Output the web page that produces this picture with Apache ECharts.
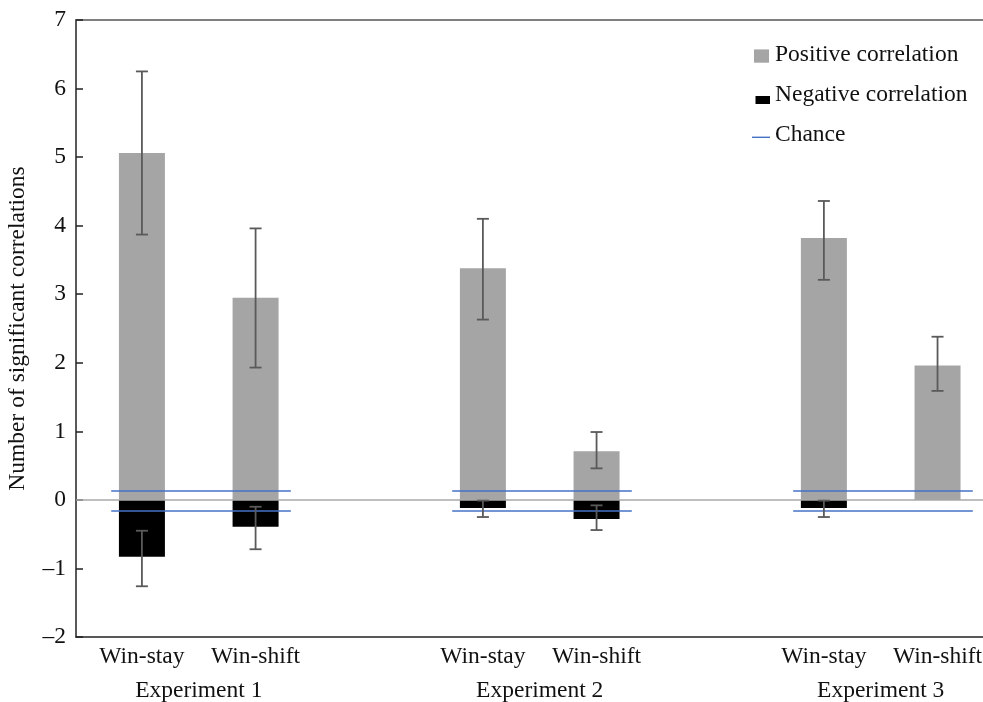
<!DOCTYPE html>
<html><head><meta charset="utf-8">
<script src="https://cdn.jsdelivr.net/npm/echarts@6/dist/echarts.min.js"></script>
<style>html,body{margin:0;padding:0;background:#fff}#c{width:983px;height:702px}</style>
</head><body><div id="c"></div>
<script>
// ---- data ----
const categories = ['Win-stay', 'Win-shift', 'Win-stay', 'Win-shift', 'Win-stay', 'Win-shift'];
const slots = [0, 1, 3, 4, 6, 7];
const experiments = ['Experiment 1', 'Experiment 2', 'Experiment 3'];
const experimentCenters = [0.5, 3.5, 6.5];
const positive = [5.06, 2.95, 3.38, 0.71, 3.82, 1.96];
const positiveLow = [3.87, 1.93, 2.63, 0.46, 3.21, 1.59];
const positiveHigh = [6.25, 3.96, 4.10, 0.99, 4.36, 2.38];
const negative = [-0.83, -0.39, -0.12, -0.28, -0.12, 0];
const negativeLow = [-1.26, -0.72, -0.25, -0.44, -0.25, null];
const negativeHigh = [-0.45, -0.10, -0.01, -0.08, -0.01, null];
const chanceLevels = [0.13, -0.16];
const yMin = -2, yMax = 7, yInterval = 1;

// ---- styling constants ----
const FONT = 'Liberation Serif';
const FS = 23.5;
const GRAY = '#a5a5a5', BLUE = '#4472c4', ERR = '#5a5a5a', AX = '#222';
const chanceStartOffset = -0.27, chanceEndOffset = 0.31;

const errData = [];
slots.forEach((s, i) => {
  errData.push([s, positiveLow[i], positiveHigh[i]]);
  if (negativeLow[i] !== null) errData.push([s, negativeLow[i], negativeHigh[i]]);
});
const chanceLines = [];
for (let g = 0; g < experiments.length; g++) {
  const s = slots[2 * g] + chanceStartOffset, e = slots[2 * g + 1] + chanceEndOffset;
  chanceLevels.forEach(c => chanceLines.push([{ coord: [s, c] }, { coord: [e, c] }]));
}

const xCommon = { type: 'value', min: -0.58, max: 7.4, splitLine: { show: false }, axisTick: { show: false } };
const chart = echarts.init(document.getElementById('c'));
chart.setOption({
  animation: false,
  grid: { left: 76, right: 0, top: 20, bottom: 65, containLabel: false, outerBoundsMode: 'none' },
  legend: {
    orient: 'vertical', left: 752, top: 43, padding: 0, itemWidth: 18, itemHeight: 18, itemGap: 16,
    selectedMode: false,
    textStyle: { fontFamily: FONT, fontSize: FS, color: '#111', lineHeight: 20 },
    data: [
      { name: 'Positive correlation', icon: 'path://M0,0L0,0M18,18L18,18M2,3.4H17V16.7H2Z', itemStyle: { color: GRAY } },
      { name: 'Negative correlation', icon: 'path://M0,0L0,0M18,18L18,18M3.5,10H18V18H3.5Z', itemStyle: { color: '#000' } },
      { name: 'Chance', icon: 'path://M0,0L0,0M18,18L18,18M0,10.6H18V12H0Z', itemStyle: { color: BLUE } }
    ]
  },
  xAxis: [
    Object.assign({}, xCommon, {
      position: 'bottom',
      axisLine: { show: true, onZero: false, lineStyle: { color: AX, width: 1.5 } },
      axisLabel: { customValues: slots, formatter: v => categories[slots.indexOf(v)], margin: 8,
        fontFamily: FONT, fontSize: FS, color: '#111' }
    }),
    Object.assign({}, xCommon, {
      position: 'bottom', offset: 34,
      axisLine: { show: false },
      axisLabel: { customValues: experimentCenters, formatter: v => experiments[experimentCenters.indexOf(v)], margin: 8,
        fontFamily: FONT, fontSize: FS, color: '#111' }
    }),
    Object.assign({}, xCommon, {
      position: 'top',
      axisLine: { show: true, onZero: false, lineStyle: { color: '#555', width: 1.5 } },
      axisLabel: { show: false }
    })
  ],
  yAxis: {
    type: 'value', min: yMin, max: yMax, interval: yInterval,
    name: 'Number of significant correlations', nameLocation: 'middle', nameGap: 46,
    nameTextStyle: { fontFamily: FONT, fontSize: FS, color: '#111' },
    axisLine: { show: true, onZero: false, lineStyle: { color: AX, width: 1.5 } },
    axisTick: { show: true, inside: true, length: 7, lineStyle: { color: AX, width: 1.5 } },
    splitLine: { show: false },
    axisLabel: { margin: 10, fontFamily: FONT, fontSize: FS, color: '#111',
      formatter: v => (v < 0 ? '\u2013' + Math.abs(v) : String(v)) }
  },
  series: [
    {
      name: 'Positive correlation', type: 'bar', barWidth: 46, barGap: '-100%',
      itemStyle: { color: GRAY },
      data: slots.map((s, i) => [s, positive[i]]),
      markLine: {
        silent: true, symbol: ['none', 'none'], label: { show: false },
        lineStyle: { color: '#a8a8a8', width: 1.5, type: 'solid' },
        data: [{ yAxis: 0 }]
      }
    },
    {
      name: 'Negative correlation', type: 'bar', barWidth: 46, barGap: '-100%',
      itemStyle: { color: '#000' },
      data: slots.map((s, i) => [s, negative[i]])
    },
    {
      name: 'Chance', type: 'line', data: [], itemStyle: { color: BLUE }, lineStyle: { color: BLUE },
      markLine: {
        silent: true, symbol: ['none', 'none'], label: { show: false },
        lineStyle: { color: BLUE, width: 1.5, type: 'solid' },
        data: chanceLines
      }
    },
    {
      name: 'err', type: 'custom', z: 5,
      encode: { x: 0, y: [1, 2] },
      data: errData,
      renderItem: function (params, api) {
        const x = api.value(0);
        const lo = api.coord([x, api.value(1)]);
        const hi = api.coord([x, api.value(2)]);
        const hw = 6;
        const style = { stroke: ERR, lineWidth: 1.8 };
        return {
          type: 'group', children: [
            { type: 'line', shape: { x1: lo[0], y1: lo[1], x2: hi[0], y2: hi[1] }, style: style },
            { type: 'line', shape: { x1: lo[0] - hw, y1: lo[1], x2: lo[0] + hw, y2: lo[1] }, style: style },
            { type: 'line', shape: { x1: hi[0] - hw, y1: hi[1], x2: hi[0] + hw, y2: hi[1] }, style: style }
          ]
        };
      }
    }
  ]
});
</script></body></html>
